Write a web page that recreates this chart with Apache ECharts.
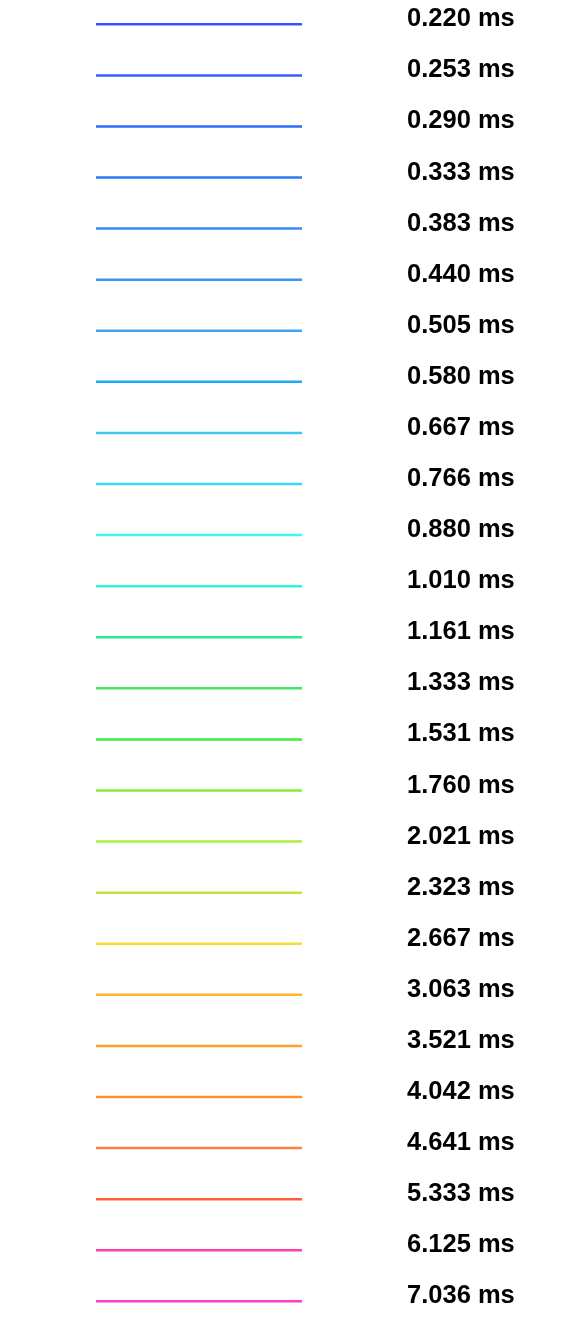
<!DOCTYPE html>
<html>
<head>
<meta charset="utf-8">
<style>html,body{margin:0;padding:0;background:#fff;}#c{width:581px;height:1336px;}</style>
<script src="https://cdn.jsdelivr.net/npm/echarts@6/dist/echarts.min.js"></script>
</head>
<body>
<div id="c"></div>
<script>
var durations = ['0.220','0.253','0.290','0.333','0.383','0.440','0.505','0.580','0.667','0.766','0.880','1.010','1.161','1.333','1.531','1.760','2.021','2.323','2.667','3.063','3.521','4.042','4.641','5.333','6.125','7.036'];
var unit = 'ms';
var colors = ['#3355ff','#3360ff','#2f6cf8','#2a7af5','#3a8af5','#3a94f5','#40a4f5','#1eaaf5','#40c4f5','#40d4f5','#40f6f6','#30f4d4','#30e690','#40e460','#40ec40','#84ec3c','#aaf03c','#cce03a','#f8dc3a','#ffb42c','#ffa02c','#ff902c','#ff803c','#ff5c3c','#ff40a8','#f840cc'];

var names = durations.map(function(d){ return d + ' ' + unit; });
var series = names.map(function(n, i){
  return { name: n, type: 'line', data: [], color: colors[i] };
});

var chart = echarts.init(document.getElementById('c'));
chart.setOption({
  animation: false,
  grid: { show: false },
  xAxis: { show: false, type: 'value' },
  yAxis: { show: false, type: 'value' },
  legend: {
    orient: 'vertical',
    left: 91,
    top: 1.3,
    icon: 'path://M0,0 L206,0 M0,10 L206,10 L206,12.5 L0,12.5 Z',
    itemWidth: 206,
    itemHeight: 12.5,
    itemGap: 25.08,
    selectedMode: false,
    itemStyle: { borderWidth: 0 },
    textStyle: {
      fontFamily: 'Liberation Sans, Arial, sans-serif',
      fontWeight: 'bold',
      fontSize: 25.5,
      lineHeight: 26,
      color: '#000',
      padding: [0, 0, 0, 100]
    },
    data: names
  },
  series: series
});
</script>
</body>
</html>
